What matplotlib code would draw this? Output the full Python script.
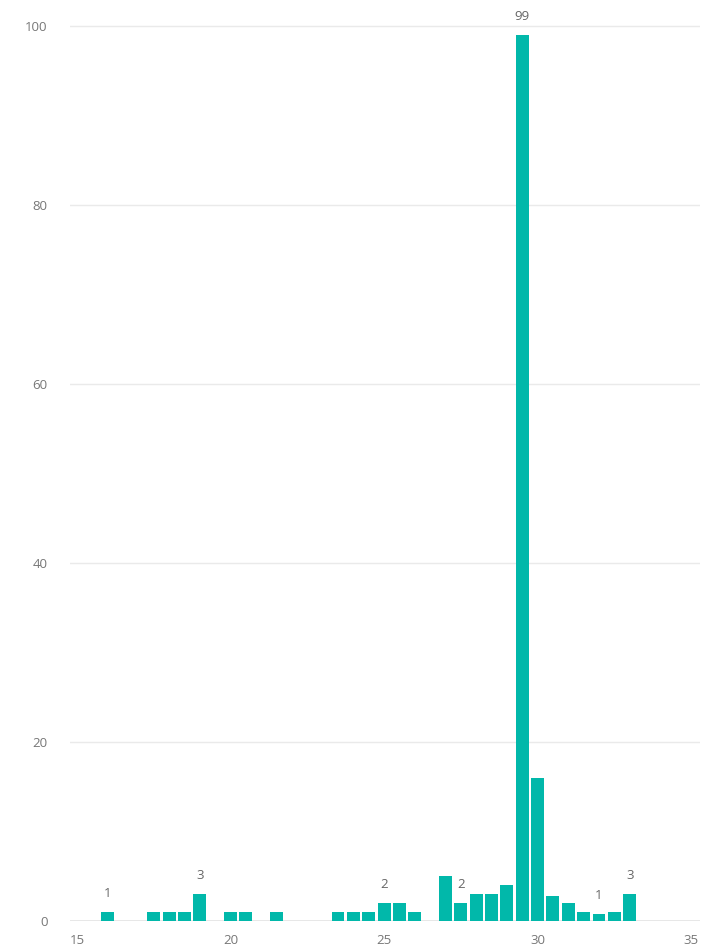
import matplotlib.pyplot as plt

# bin centres and counts
bins = [16.0, 17.5, 18.0, 18.5, 19.0, 20.0, 20.5, 21.5, 23.5, 24.0, 24.5, 25.0, 25.5, 26.0,
        27.0, 27.5, 28.0, 28.5, 29.0, 29.5, 30.0, 30.5, 31.0, 31.5, 32.0, 32.5, 33.0]
counts = [1, 1, 1, 1, 3, 1, 1, 1, 1, 1, 1, 2, 2, 1,
          5, 2, 3, 3, 4, 99, 16, 2.8, 2, 1, 0.8, 1, 3]
labels = ["1", "", "", "", "3", "", "", "", "", "", "", "2", "", "",
          "", "2", "", "", "", "99", "", "", "", "", "1", "", "3"]

yticks = [0, 20, 40, 60, 80, 100]
xticks = [15, 20, 25, 30, 35]

plt.rcParams['font.family'] = ['Open Sans', 'DejaVu Sans']

fig = plt.figure(figsize=(7.22, 9.5), dpi=100)
ax = fig.add_axes([70 / 722, 1 - 921 / 950, 630 / 722, 916 / 950])

bars = ax.bar(bins, counts, width=0.42, color="#01B8AA", zorder=3)
for b, lab in zip(bars, labels):
    if lab:
        ax.text(b.get_x() + b.get_width() / 2, b.get_height() + 1.3, lab,
                ha="center", va="bottom", fontsize=9.5, color="#666666")

ax.set_xlim(14.77, 35.29)
ax.set_ylim(0, 102.3)
ax.set_yticks(yticks)
ax.set_xticks(xticks)
ax.grid(axis="y", color="#eaeaea", linewidth=1, zorder=0)
ax.axhline(0, color="#e4e4e4", linewidth=1.2, zorder=2)
for s in ax.spines.values():
    s.set_visible(False)
ax.tick_params(axis="both", length=0, labelsize=9.5, labelcolor="#777777")
ax.tick_params(axis="y", pad=16)
ax.tick_params(axis="x", pad=9)

fig.savefig("out.png", dpi=100)
